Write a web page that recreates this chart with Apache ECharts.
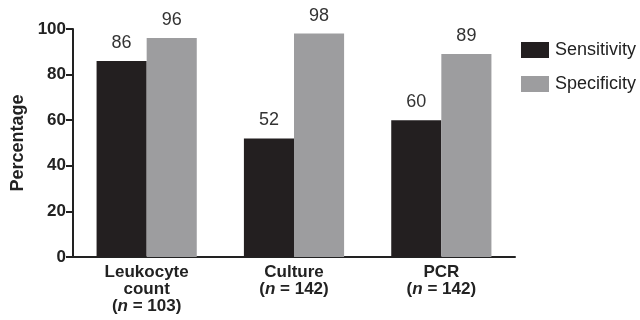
<!DOCTYPE html>
<html><head><meta charset="utf-8">
<script src="https://cdn.jsdelivr.net/npm/echarts@6/dist/echarts.min.js"></script>
<style>html,body{margin:0;padding:0;background:#fff}#c{width:640px;height:320px}</style>
</head><body><div id="c"></div>
<script>
var categories = ['Leukocyte count', 'Culture', 'PCR'];
var nValues = ['103', '142', '142'];
var sensitivity = [86, 52, 60];
var specificity = [96, 98, 89];
var yTicks = [0, 20, 40, 60, 80, 100];

var chart = echarts.init(document.getElementById('c'));
var labelLines = {
  'Leukocyte count': ['Leukocyte', 'count'],
  'Culture': ['Culture'],
  'PCR': ['PCR']
};
var FF = 'Liberation Sans, Arial';
chart.setOption({
  animation: false,
  grid: {left: 73, right: 125, top: 29, bottom: 63},
  legend: {
    orient: 'vertical', left: 516, top: 36, itemWidth: 28, itemHeight: 16, itemGap: 16,
    icon: 'rect',
    textStyle: {fontSize: 18, color: '#222', fontFamily: FF, padding: [0, 0, 0, 1]},
    data: ['Sensitivity', 'Specificity']
  },
  xAxis: {
    type: 'category', data: categories,
    axisLine: {lineStyle: {color: '#222', width: 2}},
    axisTick: {show: false},
    axisLabel: {
      interval: 0, margin: 7,
      formatter: function (v, i) {
        var lines = labelLines[v].map(function (s) { return '{b|' + s + '}'; });
        lines.push('{b|(}{i|n}{b| = ' + nValues[i] + ')}');
        return lines.join('\n');
      },
      rich: {
        b: {fontSize: 17, fontWeight: 'bold', color: '#222', fontFamily: FF, lineHeight: 17},
        i: {fontSize: 17, fontWeight: 'bold', fontStyle: 'italic', color: '#222', fontFamily: FF, lineHeight: 17}
      }
    }
  },
  yAxis: {
    type: 'value', min: yTicks[0], max: yTicks[yTicks.length - 1], interval: 20,
    name: 'Percentage', nameLocation: 'middle', nameGap: 46, nameRotate: 90,
    nameTextStyle: {fontSize: 18, fontWeight: 'bold', color: '#222', fontFamily: FF},
    axisLine: {show: true, lineStyle: {color: '#222', width: 2}},
    axisTick: {show: true, length: 7, lineStyle: {color: '#222', width: 2}},
    splitLine: {show: false},
    axisLabel: {fontSize: 17, fontWeight: 'bold', color: '#222', margin: 7, fontFamily: FF}
  },
  series: [
    {name: 'Sensitivity', type: 'bar', data: sensitivity, barGap: '0%', barCategoryGap: '32%',
     itemStyle: {color: '#231f20'},
     label: {show: true, position: 'top', distance: 9, fontSize: 18, color: '#333', fontFamily: FF}},
    {name: 'Specificity', type: 'bar', data: specificity, barGap: '0%', barCategoryGap: '32%',
     itemStyle: {color: '#9d9d9f'},
     label: {show: true, position: 'top', distance: 9, fontSize: 18, color: '#333', fontFamily: FF}}
  ]
});
</script></body></html>
